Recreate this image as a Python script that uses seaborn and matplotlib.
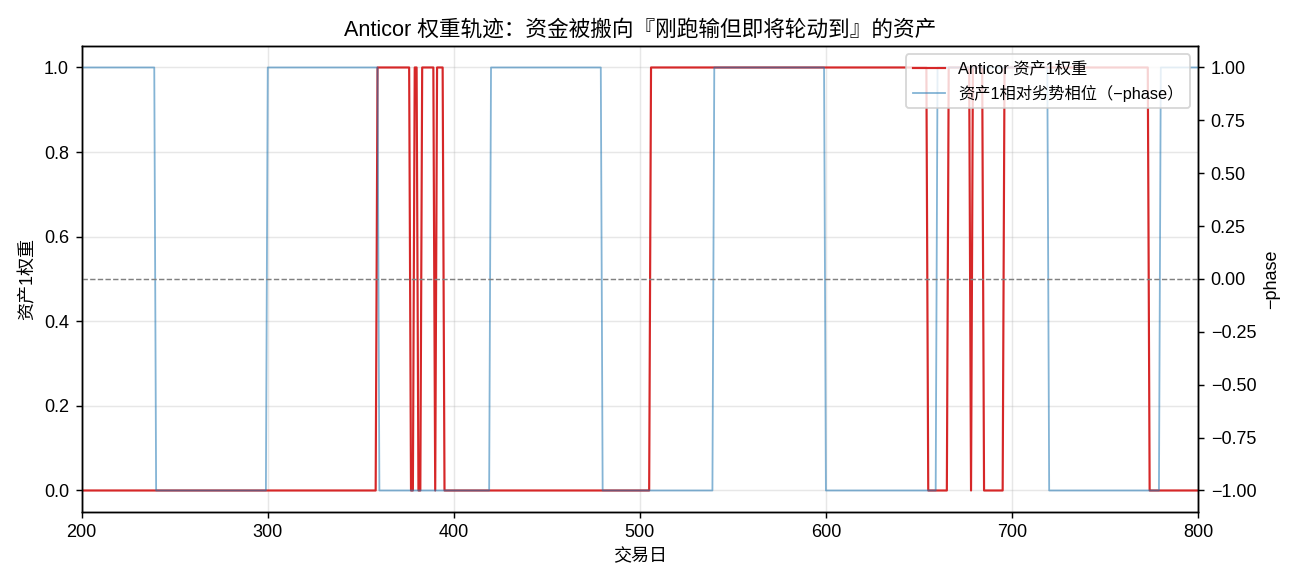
import numpy as np
import pandas as pd
import matplotlib
matplotlib.use("Agg")
import matplotlib.pyplot as plt
import seaborn as sns

plt.rcParams['font.family'] = ['Liberation Sans', 'Noto Sans CJK SC', 'DejaVu Sans']
plt.rcParams['axes.unicode_minus'] = True

# trading days shown
day_first, day_last = 200, 800

# Anticor weight on asset 1: run start days and level of each run
red_starts = [200, 359, 377, 379, 381, 383, 390, 391, 395, 506, 655, 666, 678, 679, 685, 696, 774]
red_levels = [0, 1, 0, 1, 0, 1, 0, 1, 0, 1, 0, 1, 0, 1, 0, 1, 0]

# -phase of asset 1 (relative underperformance phase)
blue_starts = [200, 240, 300, 360, 420, 480, 540, 600, 660, 720, 780]
blue_levels = [1, -1, 1, -1, 1, -1, 1, -1, 1, -1, 1]


def expand(starts, levels):
    lengths = np.diff(np.array(starts + [day_last + 1]))
    return np.repeat(levels, lengths)


days = np.arange(day_first, day_last + 1)
df = pd.DataFrame({
    'day': days,
    'weight': expand(red_starts, red_levels),
    'neg_phase': expand(blue_starts, blue_levels),
})

fig, ax1 = plt.subplots(figsize=(10, 4.5), dpi=130)
ax2 = ax1.twinx()

sns.lineplot(data=df, x='day', y='weight', ax=ax1, color='#d62728', lw=1.2,
             label='Anticor 资产1权重', legend=False)
sns.lineplot(data=df, x='day', y='neg_phase', ax=ax2, color='#1f77b4', lw=1.0,
             alpha=0.55, label='资产1相对劣势相位（−phase）', legend=False)
ax2.axhline(0, color='gray', ls='--', lw=0.8)

ax1.set_xlim(day_first, day_last)
ax1.set_ylim(-0.05, 1.05)
ax2.set_ylim(-1.1, 1.1)
ax1.grid(alpha=0.3)
ax1.set_xlabel('交易日')
ax1.set_ylabel('资产1权重')
ax2.set_ylabel('−phase')
ax1.set_title('Anticor 权重轨迹：资金被搬向『刚跑输但即将轮动到』的资产')

h1, l1 = ax1.get_legend_handles_labels()
h2, l2 = ax2.get_legend_handles_labels()
ax2.legend(h1 + h2, l1 + l2, loc='upper right', fontsize=9)

plt.tight_layout()
plt.savefig('out.png', dpi=130)
